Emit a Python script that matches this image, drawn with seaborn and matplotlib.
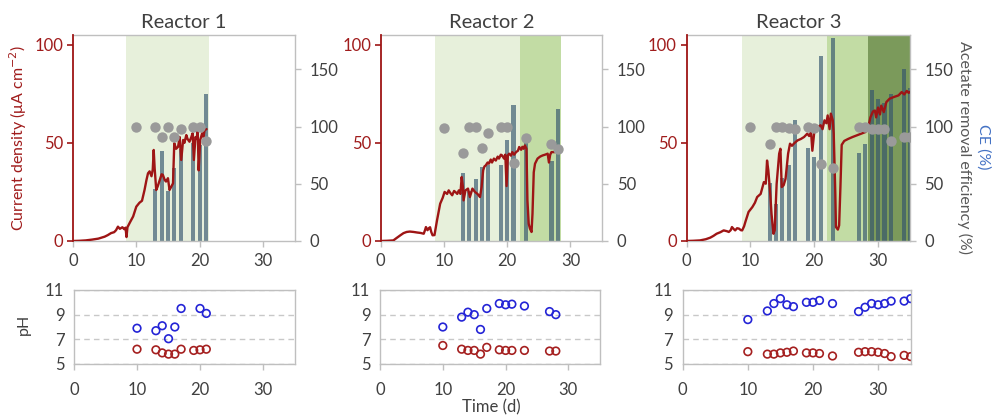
import numpy as np
import pandas as pd
import matplotlib
matplotlib.use("Agg")
import matplotlib.pyplot as plt
import seaborn as sns

sns.set_style("white")
plt.rcParams["font.family"] = ["Lato", "DejaVu Sans"]

# ---------------- data ----------------
titles = ["Reactor 1", "Reactor 2", "Reactor 3"]

# current density time series (uA cm-2)
t1 = [0, 1, 2, 3, 4, 5, 5.5, 6, 6.5, 6.8, 7.1, 7.4, 7.8, 8.1, 8.3, 8.45, 8.6, 9.0, 9.5, 10.0,
      10.5, 10.9, 11.3, 11.6, 11.85, 12.1, 12.4, 12.6, 12.75, 12.9, 13.15, 13.4, 13.7, 14.0, 14.2,
      14.5, 14.7, 15.0, 15.25, 15.5, 15.8, 16.0, 16.3, 16.6, 16.85, 17.1, 17.4, 17.6, 17.9, 18.1,
      18.4, 18.7, 18.9, 19.1, 19.35, 19.55, 19.7, 19.85, 20.1, 20.4, 20.6, 20.8, 21.1]
cd1 = [0, 0.1, 0.3, 0.7, 1.2, 2.2, 3.0, 4.0, 4.5, 5.5, 7.3, 6.2, 7.0, 6.0, 6.8, 2.0, 7.0, 9.5, 12.5, 17.5,
       19.5, 20.5, 26, 31, 34.5, 35.5, 33, 36.5, 46.4, 37, 26, 28, 31, 34, 33.7,
       31, 30.3, 32, 26, 27.5, 29.4, 49.8, 47, 48, 53, 41.3, 51.5, 50, 54, 52,
       50.6, 53, 54.9, 41.3, 53, 52, 56.6, 36, 51.5, 54.9, 53, 56.6, 57]

t2 = [0, 1, 2, 2.5, 3.1, 3.6, 4.1, 4.6, 5.2, 5.8, 6.3, 6.8, 7.0, 7.15, 7.4, 7.6, 7.8, 8.0, 8.2, 8.5,
      8.9, 9.4, 9.8, 10.1, 10.5, 10.75, 11.0, 11.3, 11.6, 11.8, 12.1, 12.35, 12.6, 12.8, 13.0, 13.1,
      13.4, 13.8, 14.1, 14.5, 14.9, 15.3, 15.7, 15.95, 16.2, 16.4, 16.6, 16.9, 17.1, 17.4, 17.6, 17.9,
      18.2, 18.5, 18.7, 19.0, 19.2, 19.5, 19.7, 19.9, 20.1, 20.3, 20.6, 20.8, 21.1, 21.4, 21.7, 21.9,
      22.2, 22.4, 22.6, 22.8, 23.05, 23.2, 23.4, 23.6, 23.85, 24.0, 24.2, 24.4, 24.8, 25.2, 25.6, 26.0,
      26.4, 26.6, 26.8, 27.0, 27.5, 27.8, 28.0]
cd2 = [0, 0.1, 0.3, 1.5, 2.9, 4.0, 4.6, 4.8, 4.6, 4.3, 4.1, 3.7, 5.5, 7.1, 5.5, 6.5, 7.0, 4.5, 2.9, 3.0,
       10.5, 19, 22, 25, 24, 25.8, 24.5, 23.3, 25.5, 25, 24, 25.8, 24, 32.6, 27.5, 20.7,
       25.8, 26.7, 22.4, 26.7, 25, 24, 22.4, 27.5, 36, 38, 38.5, 40, 39.4, 41.5, 40, 42,
       41, 43, 42, 44, 43.6, 42, 44, 28, 43.6, 44.5, 43.5, 45.3, 44, 45.3, 46, 47.9,
       46.5, 48, 47, 48.7, 47, 20.7, 8.8, 6.3, 4.6, 13.9, 35, 39.4, 42, 43, 43.6, 44,
       44.5, 40, 44, 45.3, 45.3, 46, 47]

t3 = [0, 1, 2.1, 3, 3.7, 4.2, 4.7, 5.3, 5.8, 6.3, 6.6, 6.9, 7.1, 7.4, 7.6, 7.9, 8.2, 8.5, 8.7, 9.0,
      9.2, 9.7, 10.3, 10.7, 11.05, 11.6, 12.1, 12.4, 12.6, 12.8, 13.1, 13.3, 13.6, 13.8, 14.1, 14.5,
      14.7, 14.9, 15.2, 15.5, 15.9, 16.2, 16.5, 16.8, 17.1, 17.4, 17.9, 18.4, 18.9, 19.2, 19.5, 19.7,
      20.0, 20.5, 21.0, 21.3, 21.6, 21.9, 22.1, 22.4, 22.6, 22.9, 23.05, 23.3, 23.4, 23.7, 23.9, 24.1,
      24.3, 24.7, 25.3, 26.0, 26.8, 27.6, 28.0, 28.4, 28.8, 29.2, 29.5, 29.7, 30.0, 30.3, 30.5, 30.9,
      31.3, 31.8, 32.4, 33.2, 33.7, 34.1, 34.5, 34.8, 35.0]
cd3 = [0, 0.1, 0.3, 0.9, 1.7, 2.6, 3.7, 4.5, 5.4, 5.0, 4.6, 5.5, 7.1, 6.0, 5.4, 6.5, 6.3, 5.5, 5.4, 7.5,
       9.7, 14.8, 17.3, 19.5, 22.4, 24, 30, 29.2, 41, 36, 24, 13.9, 3.7, 5.4, 29, 44.5,
       47, 27.5, 28.4, 31.7, 44.5, 49.6, 48.5, 49.6, 50.5, 51.3, 52, 53, 54.7, 53.5, 55.5, 46,
       55.5, 58, 59, 57, 61.5, 60, 64, 57, 64.9, 61.5, 54.7, 24, 7.1, 5.8, 8, 27.5,
       49, 51, 52, 53, 54, 55, 55.5, 57, 63, 66, 66.5, 63, 68, 64.5, 69, 65.7,
       70.8, 72.5, 73.3, 74.2, 75.9, 74.7, 76.5, 75.5, 76]

# CE bars (%)
ce_days1 = [13, 14, 15, 16, 17, 19, 20, 21]
ce1 = [45, 79, 44, 64, 80, 86, 84, 128]
ce_days2 = [13, 14, 15, 16, 17, 19, 20, 21, 23, 27, 28]
ce2 = [59, 44, 54, 65, 66, 66, 88, 119, 86, 70, 115]
ce_days3 = [13, 14, 15, 16, 17, 19, 20, 21, 23, 27, 28, 29, 30, 31, 32, 34, 35]
ce3 = [51, 32, 55, 66, 106, 81, 73, 162, 177, 77, 85, 132, 124, 121, 128, 150, 134]

# acetate removal efficiency (%)
rm_days1 = [10, 13, 14, 15, 16, 17, 19, 20, 21]
rm1 = [100, 100, 91, 100, 91, 98, 100, 100, 87]
rm_days2 = [10, 13, 14, 15, 16, 17, 19, 20, 21, 23, 27, 28]
rm2 = [99, 77, 100, 100, 81, 94, 100, 100, 68, 90, 85, 80]
rm_days3 = [10, 13, 14, 15, 16, 17, 19, 20, 21, 23, 27, 28, 29, 30, 31, 32, 34, 35]
rm3 = [100, 85, 100, 100, 99, 98, 100, 99, 67, 64, 100, 100, 98, 97.5, 97.5, 87, 91, 91]

# pH (anode = red, cathode = blue)
phA_days1 = [10, 13, 14, 15, 16, 17, 19, 20, 21]
phA1 = [6.2, 6.15, 5.9, 5.8, 5.8, 6.2, 6.1, 6.15, 6.2]
phC_days1 = [10, 13, 14, 15, 16, 17, 20, 21]
phC1 = [7.9, 7.7, 8.1, 7.05, 8.0, 9.5, 9.5, 9.1]
phA_days2 = [10, 13, 14, 15, 16, 17, 19, 20, 21, 23, 27, 28]
phA2 = [6.5, 6.2, 6.1, 6.1, 5.8, 6.35, 6.15, 6.1, 6.1, 6.1, 6.05, 6.05]
phC_days2 = [10, 13, 14, 15, 16, 17, 19, 20, 21, 23, 27, 28]
phC2 = [8.0, 8.8, 9.2, 9.0, 7.8, 9.5, 9.9, 9.8, 9.85, 9.7, 9.25, 9.0]
phA_days3 = [10, 13, 14, 15, 16, 17, 19, 20, 21, 23, 27, 28, 29, 30, 31, 32, 34, 35]
phA3 = [6.0, 5.8, 5.8, 5.9, 5.95, 6.05, 5.9, 5.9, 5.85, 5.65, 5.95, 6.0, 6.0, 5.95, 5.85, 5.6, 5.7, 5.6]
phC_days3 = [10, 13, 14, 15, 16, 17, 19, 20, 21, 23, 27, 28, 29, 30, 31, 32, 34, 35]
phC3 = [8.6, 9.3, 9.9, 10.3, 9.8, 9.65, 10.0, 10.0, 10.15, 9.9, 9.25, 9.6, 9.9, 9.8, 9.9, 10.1, 10.1, 10.3]

# phase shading (start, end) per reactor
phases1 = [(8.4, 21.5)]
phases2 = [(8.6, 22.0), (22.0, 28.5)]
phases3 = [(8.7, 22.0), (22.0, 28.5), (28.5, 35.0)]
phase_colors = ["#E7F0DB", "#C2DCA4", "#7B9A5B"]

# ---------------- style ----------------
RED = "#9E1515"
RED_TXT = "#A01C1C"
GRAY_TXT = "#404040"
SPINE = "#BFBFBF"
BAR = "#32536D"
DOT = "#9A9A9A"
BLUE_PH = "#2424D6"
RED_PH = "#A52020"
CE_BLUE = "#4472C4"

fig = plt.figure(figsize=(9.92, 4.17), dpi=100)

top_rects = [(0.0736, 0.4221, 0.2233, 0.4940),
             (0.3838, 0.4221, 0.2231, 0.4940),
             (0.6922, 0.4221, 0.2251, 0.4940)]
bot_rects = [(0.0746, 0.1271, 0.2223, 0.1775),
             (0.3831, 0.1271, 0.2215, 0.1775),
             (0.6882, 0.1271, 0.2298, 0.1775)]

series = [
    (t1, cd1, ce_days1, ce1, rm_days1, rm1, phA_days1, phA1, phC_days1, phC1, phases1),
    (t2, cd2, ce_days2, ce2, rm_days2, rm2, phA_days2, phA2, phC_days2, phC2, phases2),
    (t3, cd3, ce_days3, ce3, rm_days3, rm3, phA_days3, phA3, phC_days3, phC3, phases3),
]

TICK_FS = 12

for i, (t, cd, ced, ce, rmd, rm, pad_, pa, pcd, pc, phases) in enumerate(series):
    axB = fig.add_axes(top_rects[i])
    axL = axB.twinx()
    axD = axB.twinx()
    axB.set_zorder(1)
    axL.set_zorder(2)
    axD.set_zorder(3)
    axL.patch.set_visible(False)
    axD.patch.set_visible(False)

    # phase shading
    for (a, b), col in zip(phases, phase_colors):
        axB.axvspan(a, b, color=col, lw=0, zorder=0)

    # CE bars
    df_ce = pd.DataFrame({"day": ced, "ce": ce})
    sns.barplot(data=df_ce, x="day", y="ce", native_scale=True, width=0.65,
                color=BAR, saturation=1, alpha=0.65, errorbar=None, linewidth=0,
                ax=axB, zorder=1)

    # current density line
    df_cd = pd.DataFrame({"t": t, "cd": cd})
    sns.lineplot(data=df_cd, x="t", y="cd", ax=axL, color=RED, linewidth=1.7,
                 estimator=None, sort=False)

    # removal efficiency dots
    df_rm = pd.DataFrame({"day": rmd, "rm": rm})
    sns.scatterplot(data=df_rm, x="day", y="rm", ax=axD, color=DOT, s=56,
                    linewidth=0)

    for ax in (axB, axL, axD):
        ax.set_xlim(0, 35)
        ax.set_xlabel("")
        ax.set_ylabel("")

    # bar axis: right scale
    axB.set_ylim(0, 180)
    axB.set_yticks([0, 50, 100, 150])
    axB.yaxis.tick_right()
    axB.set_xticks([0, 10, 20, 30])
    axB.set_xticklabels(["0", "10", "20", "30"])
    axB.tick_params(axis="y", which="both", right=True, left=False, length=4.5, width=1,
                    color=SPINE, labelcolor=GRAY_TXT, labelsize=TICK_FS, pad=6)
    axB.tick_params(axis="x", bottom=True, length=4, width=1, color=SPINE,
                    labelcolor=GRAY_TXT, labelsize=TICK_FS, pad=5)
    axB.spines["left"].set_visible(False)
    for s in ("right", "top", "bottom"):
        axB.spines[s].set_color(SPINE)
        axB.spines[s].set_linewidth(1)

    # line axis: left scale
    axL.set_ylim(0, 105)
    axL.set_yticks([0, 50, 100])
    axL.yaxis.tick_left()
    axL.tick_params(axis="y", left=True, right=False, length=4, width=1.2, color=RED,
                    labelcolor=RED_TXT, labelsize=TICK_FS, pad=3)
    for s in ("right", "top", "bottom"):
        axL.spines[s].set_visible(False)
    axL.spines["left"].set_visible(True)
    axL.spines["left"].set_color(RED)
    axL.spines["left"].set_linewidth(1.3)
    axL.xaxis.set_visible(False)

    # dots axis
    axD.set_ylim(0, 180)
    axD.set_axis_off()

    axB.set_title(titles[i], fontsize=14.5, color=GRAY_TXT, pad=5)

    # pH panel
    axP = fig.add_axes(bot_rects[i])
    axP.set_axisbelow(True)
    sns.scatterplot(x=pad_, y=pa, ax=axP, facecolor="none", edgecolor=RED_PH,
                    linewidth=1.2, s=30)
    sns.scatterplot(x=pcd, y=pc, ax=axP, facecolor="none", edgecolor=BLUE_PH,
                    linewidth=1.2, s=30)
    axP.set_xlim(0, 35)
    axP.set_ylim(5, 11)
    axP.set_yticks([5, 7, 9, 11])
    axP.set_xticks([0, 10, 20, 30])
    axP.yaxis.grid(True, linestyle=(0, (4, 3)), color="#C8C8C8", linewidth=1)
    axP.xaxis.grid(False)
    axP.tick_params(axis="y", left=False, length=0, labelcolor=GRAY_TXT,
                    labelsize=TICK_FS, pad=7)
    axP.tick_params(axis="x", bottom=True, length=4, width=1, color=SPINE,
                    labelcolor=GRAY_TXT, labelsize=TICK_FS, pad=9)
    for s in axP.spines.values():
        s.set_visible(True)
        s.set_color(SPINE)
        s.set_linewidth(1)
    axP.set_xlabel("")
    axP.set_ylabel("")

# axis labels as figure text
fig.text(0.018, 0.669, "Current density (μA cm$^{-2}$)", rotation=90, ha="center",
         va="center", color=RED_TXT, fontsize=11.5)
fig.text(0.972, 0.647, "Acetate removal efficiency (%)", rotation=270, ha="center",
         va="center", color="#595959", fontsize=11.5)
fig.text(0.991, 0.649, "CE (%)", rotation=270, ha="center", va="center",
         color=CE_BLUE, fontsize=11.5)
fig.text(0.0242, 0.222, "pH", rotation=90, ha="center", va="center",
         color=GRAY_TXT, fontsize=11.5)
fig.text(0.495, 0.024, "Time (d)", ha="center", va="center", color=GRAY_TXT,
         fontsize=12)

fig.savefig("out.png", dpi=100)
